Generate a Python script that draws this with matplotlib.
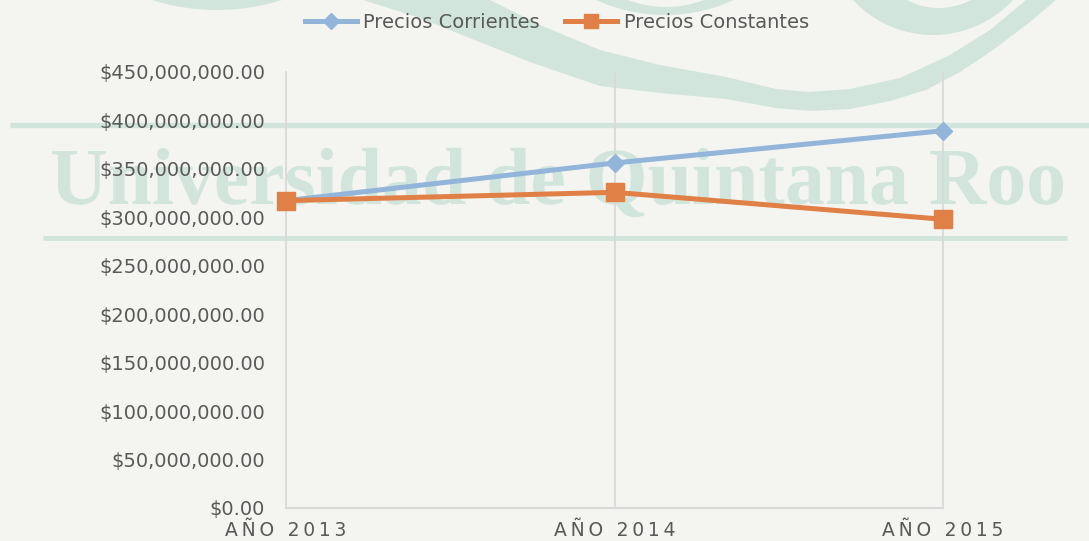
import matplotlib
matplotlib.use("Agg")
import matplotlib.pyplot as plt
from matplotlib.patches import Circle, Polygon, PathPatch
from matplotlib.textpath import TextPath
from matplotlib.font_manager import FontProperties
from matplotlib.transforms import Affine2D
from matplotlib.ticker import FuncFormatter, MultipleLocator

# ---- data ----
years = ["AÑO 2013", "AÑO 2014", "AÑO 2015"]
precios_corrientes = [317.2e6, 356.1e6, 389.4e6]
precios_constantes = [317.2e6, 325.8e6, 298.0e6]
series_names = ["Precios Corrientes", "Precios Constantes"]

W, H = 1089, 541
BG = "#f4f4f0"
WM = "#d1e5dc"
TXT = "#595959"
BLUE = "#92b5d9"
ORANGE = "#e08046"

fig = plt.figure(figsize=(W / 100, H / 100), dpi=100, facecolor=BG)

# ---- background watermark (pixel coordinates, y downward) ----
bg = fig.add_axes([0, 0, 1, 1], zorder=0)
bg.set_xlim(0, W)
bg.set_ylim(H, 0)
bg.axis("off")
bg.set_facecolor(BG)

bg.add_patch(Circle((217, -206), 216, color=WM, lw=0))
bg.add_patch(Circle((665, -150), 165, color=WM, lw=0))
bg.add_patch(Circle((666, -100), 107, color=BG, lw=0))
bg.add_patch(Circle((933, -74), 109, color=WM, lw=0))
bg.add_patch(Circle((939, -60), 68, color=BG, lw=0))

lower = [(363, 0), (420, 18), (467, 37), (530, 62), (600, 86), (660, 93),
         (726, 99), (776, 108), (812, 111), (850, 109), (890, 101), (926, 90),
         (960, 72), (993, 50), (1030, 22), (1056, 0), (1056, -10)]
upper = [(1026, -10), (1026, 0), (990, 30), (950, 55), (900, 78), (850, 89),
         (809, 92), (776, 89), (726, 77), (660, 65), (600, 50), (540, 25),
         (490, 0), (490, -10), (363, -10)]
bg.add_patch(Polygon(lower + upper, closed=True, color=WM, lw=0))

bg.plot([10, W], [124.5, 124.5], color=WM, lw=3.8, solid_capstyle="butt")
bg.plot([43, 1067], [237.5, 237.5], color=WM, lw=3.6, solid_capstyle="butt")

wm_text = "Universidad de Quintana Roo"
fp = FontProperties(family="Liberation Serif", weight="bold")
tp = TextPath((0, 0), wm_text, size=1, prop=fp)
ext = tp.get_extents()
cap_h = TextPath((0, 0), "U", size=1, prop=fp).get_extents().y1
x0, x1, base, cap_top = 52, 1063, 204, 151
sx = (x1 - x0) / ext.width
sy = (base - cap_top) / cap_h
tr = Affine2D().translate(-ext.x0, 0).scale(sx, -sy).translate(x0, base)
bg.add_patch(PathPatch(tr.transform_path(tp), color=WM, lw=0))

# ---- main chart ----
left, right = 286 / W, 943 / W
bottom, top = 1 - 508 / H, 1 - 72 / H
ax = fig.add_axes([left, bottom, right - left, top - bottom], zorder=1)
ax.set_facecolor("none")

x = list(range(len(years)))
ax.plot(x, precios_corrientes, color=BLUE, lw=3.6, marker="D", ms=9,
        label=series_names[0], zorder=3, clip_on=False)
ax.plot(x, precios_constantes, color=ORANGE, lw=3.6, marker="s", ms=12.5,
        label=series_names[1], zorder=4, clip_on=False)

ax.set_xlim(0, 2)
ax.set_ylim(0, 450e6)
ax.yaxis.set_major_locator(MultipleLocator(50e6))
ax.yaxis.set_major_formatter(FuncFormatter(lambda v, p: "${:,.2f}".format(v)))
ax.set_xticks(x)
ax.set_xticklabels(["\u2009".join(list(y)) for y in years])

for s in ["top", "right", "left"]:
    ax.spines[s].set_visible(False)
ax.spines["bottom"].set_color("#d9d9d9")
ax.spines["bottom"].set_linewidth(1.5)
ax.grid(axis="x", color="#d9d9d9", lw=1.3)
ax.grid(axis="y", visible=False)
ax.set_axisbelow(True)
for gl in ax.get_xgridlines():
    gl.set_clip_on(False)

ax.tick_params(axis="both", length=0, colors=TXT, labelsize=14)
ax.tick_params(axis="y", pad=15)
ax.tick_params(axis="x", pad=9, labelsize=13.5)

fig.legend(loc="center", bbox_to_anchor=(557 / W, 1 - 22 / H), ncol=2,
           frameon=False, fontsize=14, labelcolor=TXT, handlelength=2.65,
           handletextpad=0.35, columnspacing=1.3, markerscale=0.85)

fig.savefig("out.png", dpi=100, facecolor=BG)
